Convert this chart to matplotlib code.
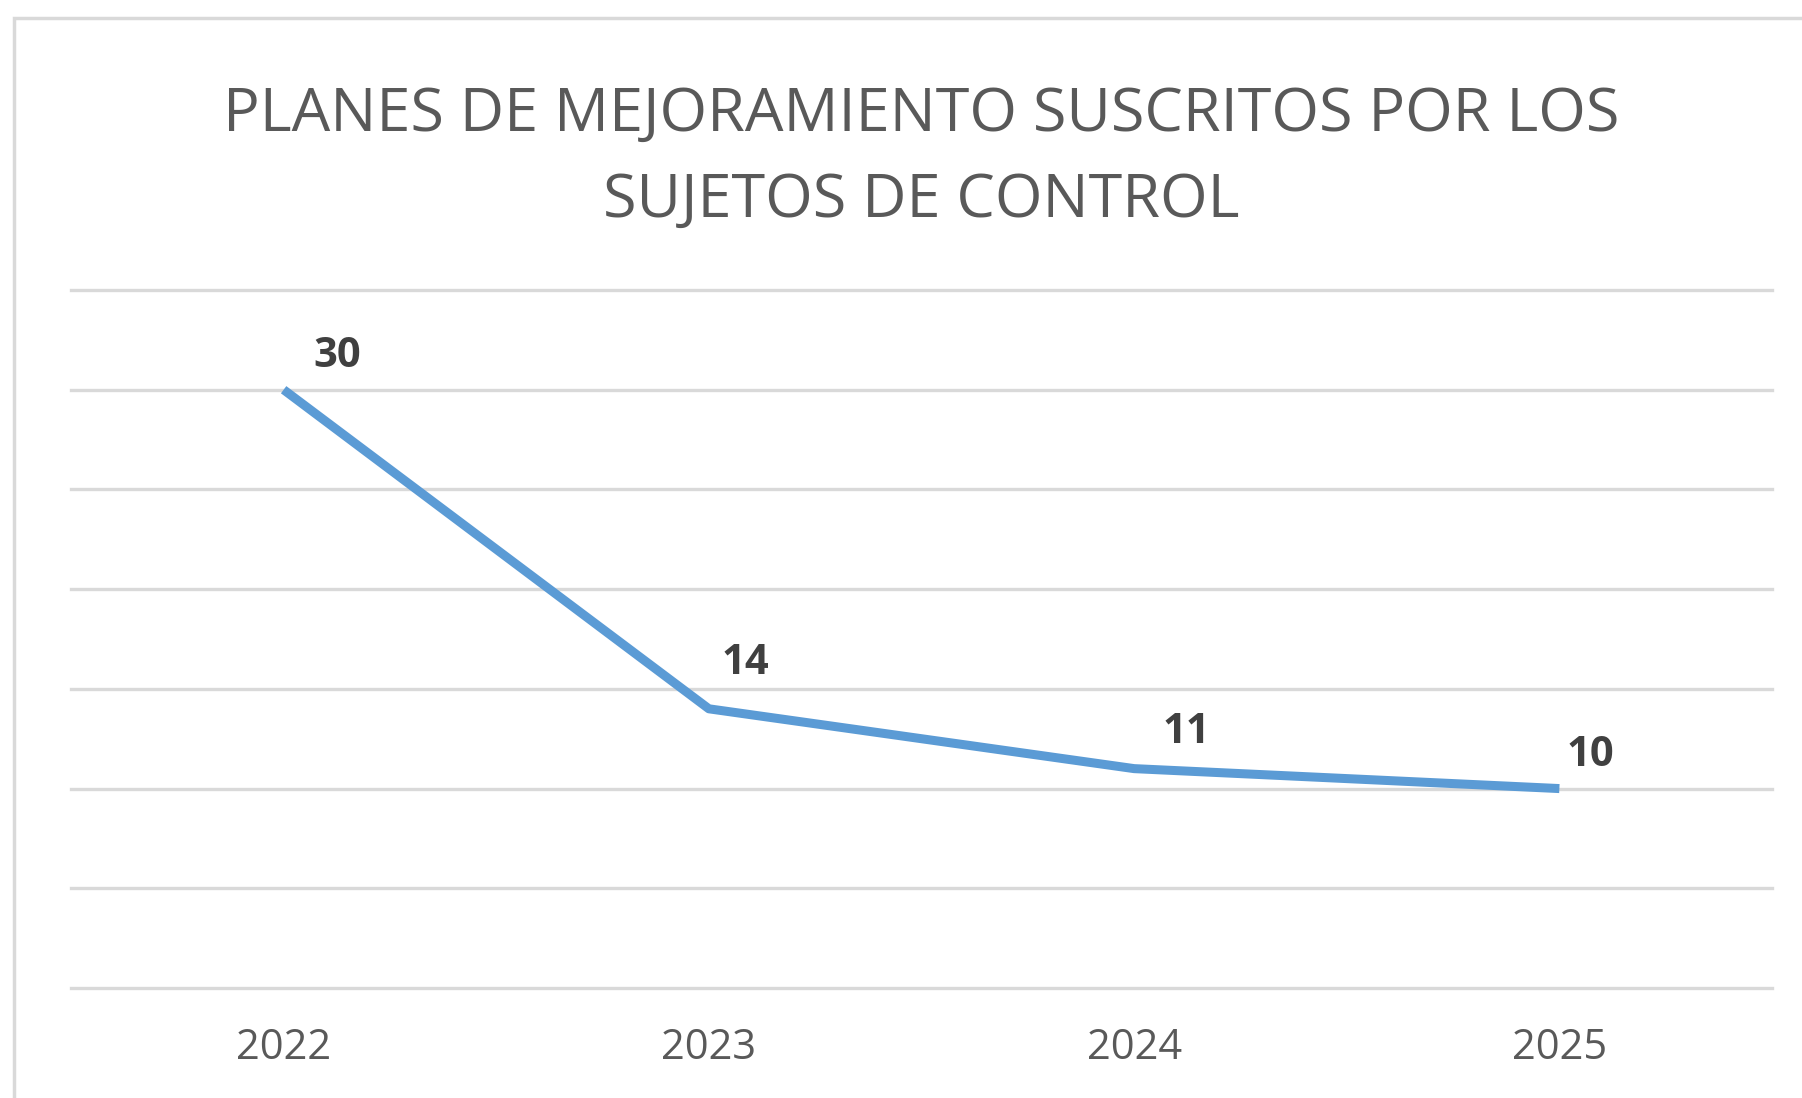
import matplotlib
matplotlib.use("Agg")
import matplotlib.pyplot as plt
from matplotlib.patches import Rectangle

# ---- data ----
years = ["2022", "2023", "2024", "2025"]
planes = [30, 14, 11, 10]
title_lines = ["PLANES DE MEJORAMIENTO SUSCRITOS POR LOS", "SUJETOS DE CONTROL"]
y_max = 35
y_step = 5

W, H, DPI = 1802, 1098, 100
fig = plt.figure(figsize=(W / DPI, H / DPI), dpi=DPI)
fig.patch.set_facecolor("white")

# outer chart frame
fig.patches.append(Rectangle((14 / W, -0.05), 1.2, 1 - 18 / H + 0.05,
                             transform=fig.transFigure, fill=False,
                             edgecolor="#D9D9D9", linewidth=2.5))

left, right, top, bottom = 71, 1772, 290, 988
ax = fig.add_axes([left / W, 1 - bottom / H, (right - left) / W, (bottom - top) / H])
ax.set_facecolor("none")

x = list(range(len(years)))
ax.set_xlim(-0.5, len(years) - 0.5)
ax.set_ylim(0, y_max)

for v in range(0, y_max + 1, y_step):
    ax.axhline(v, color="#D9D9D9", linewidth=2.4, clip_on=False, zorder=1)

ax.plot(x, planes, color="#5B9BD5", linewidth=6.5, solid_capstyle="butt",
        solid_joinstyle="round", zorder=3)

offsets = [(54, 33), (36, 45), (52, 36), (31, 33)]
for xi, v, (dx, dy) in zip(x, planes, offsets):
    ax.annotate(str(v), (xi, v), xytext=(dx * 72 / DPI, dy * 72 / DPI),
                textcoords="offset points", ha="center", va="center",
                fontsize=30, fontweight="bold", color="#404040",
                family="Open Sans", zorder=4)

ax.set_xticks(x)
ax.set_xticklabels(years, fontsize=30, color="#595959", family="Open Sans")
ax.tick_params(axis="x", length=0, pad=28)
ax.set_yticks([])
for s in ax.spines.values():
    s.set_visible(False)

cx = (left + right) / 2 / W
fig.text(cx, 1 - 115 / H, title_lines[0], ha="center", va="center",
         fontsize=44, color="#595959", family="Open Sans")
fig.text(cx, 1 - 201 / H, title_lines[1], ha="center", va="center",
         fontsize=44, color="#595959", family="Open Sans")

fig.savefig("out.png", dpi=DPI, facecolor="white")
